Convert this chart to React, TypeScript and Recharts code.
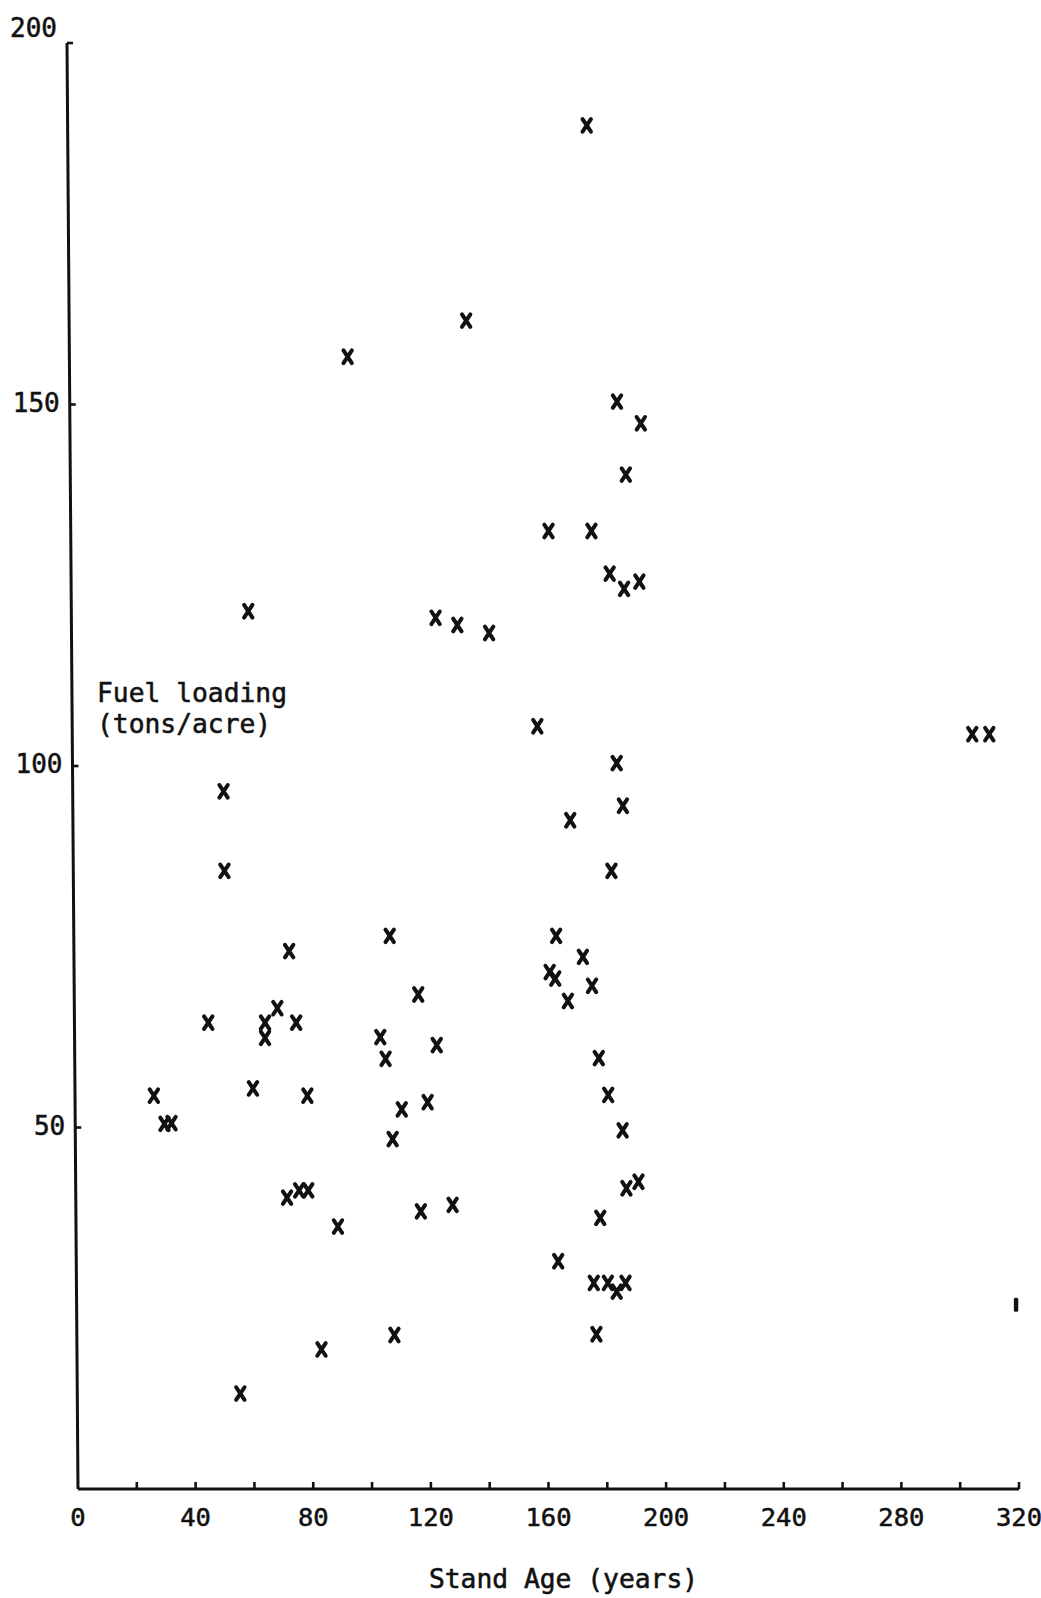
import React from "react";
import { ScatterChart, Scatter, XAxis, YAxis, ReferenceLine } from "recharts";

// Stand age (years) and fuel loading (tons/acre)
const standAge = [
  173, 132, 91.7, 183.3, 191.4, 186.3, 160, 174.6, 180.8, 185.7, 190.9,
  57.9, 121.6, 129, 139.8, 156.2, 304.1, 309.9, 183.2, 49.5, 185.3, 167.4,
  49.8, 181.4, 106, 162.6, 71.8, 171.7, 160.4, 162.3, 115.7, 174.8, 67.8,
  166.6, 44.3, 63.6, 74.2, 63.6, 102.8, 122, 104.6, 177.1, 59.5, 25.8,
  78, 180.3, 118.9, 110.1, 29.4, 31.8, 185.2, 107, 190.6, 186.5, 71.1,
  75.2, 78.3, 116.6, 127.4, 177.6, 88.4, 163.3, 175.4, 180.2, 186.2,
  183.2, 107.6, 176.3, 82.8, 55.2,
];
const fuelLoading = [
  188.6, 161.6, 156.6, 150.4, 147.4, 140.3, 132.5, 132.5, 126.6, 124.5, 125.5,
  121.4, 120.5, 119.5, 118.4, 105.5, 104.4, 104.4, 100.4, 96.5, 94.5, 92.5,
  85.5, 85.5, 76.5, 76.5, 74.4, 73.6, 71.5, 70.6, 68.4, 69.6, 66.5,
  67.5, 64.5, 64.5, 64.5, 62.4, 62.5, 61.4, 59.5, 59.6, 55.4, 54.4,
  54.4, 54.5, 53.5, 52.5, 50.5, 50.6, 49.6, 48.4, 42.5, 41.6, 40.3,
  41.3, 41.3, 38.4, 39.3, 37.5, 36.3, 31.5, 28.5, 28.5, 28.5,
  27.3, 21.3, 21.4, 19.3, 13.2,
];
// point cut off at the right edge of the frame
const edgeAge = [319];
const edgeLoading = [25.5];

const xTicks = [0, 20, 40, 60, 80, 100, 120, 140, 160, 180, 200, 220, 240, 260, 280, 300, 320];
const yTicks = [50, 100, 150, 200];

const points = standAge.map((a, i) => ({ age: a, load: fuelLoading[i] }));
const edgePoints = edgeAge.map((a, i) => ({ age: a, load: edgeLoading[i] }));

const FONT = "'DejaVu Sans Mono', 'Liberation Mono', monospace";
const INK = "#111";
const TEXT_STYLE = { stroke: INK, strokeWidth: 0.55, paintOrder: "stroke" as const };

const XMark = (props: any) => {
  const { cx, cy } = props;
  if (cx == null || cy == null) return null;
  const w = 4.2;
  const h = 6.3;
  return (
    <path
      d={`M${cx - w},${cy - h}L${cx + w},${cy + h}M${cx + w},${cy - h}L${cx - w},${cy + h}`}
      stroke={INK}
      strokeWidth={4}
      strokeLinecap="round"
      fill="none"
    />
  );
};

const EdgeMark = (props: any) => {
  const { cx, cy } = props;
  if (cx == null || cy == null) return null;
  return <rect x={cx - 2.2} y={cy - 7} width={4.4} height={14} rx={1.5} fill={INK} />;
};

const XTick = (props: any) => {
  const { x, y, payload } = props;
  const v = payload.value;
  return (
    <g>
      {v !== 0 && <line x1={x} y1={y} x2={x} y2={y - 7} stroke={INK} strokeWidth={2.6} />}
      {v % 40 === 0 && (
        <text x={x} y={y + 37} textAnchor="middle" fontFamily={FONT} fontSize={25.5} fill={INK} style={TEXT_STYLE}>
          {v}
        </text>
      )}
    </g>
  );
};

const Y_TILT = 11;
const YTick = (props: any) => {
  const { x, y, payload } = props;
  const v = payload.value;
  const ax = x - (Y_TILT * v) / 200;
  return (
    <g>
      <line x1={ax} y1={y} x2={ax + 6} y2={y} stroke={INK} strokeWidth={2.6} />
      <text
        x={ax - 10}
        y={v === 200 ? y - 15 : y - 2}
        textAnchor="end"
        dominantBaseline="central"
        fontFamily={FONT}
        fontSize={26}
        fill={INK}
        style={TEXT_STYLE}
      >
        {v}
      </text>
    </g>
  );
};

const XLabel = (props: any) => {
  const vb = props.viewBox || {};
  const cx = vb.x + vb.width / 2 + 15;
  return (
    <text x={cx} y={vb.y + 99} textAnchor="middle" fontFamily={FONT} fontSize={26.3} fill={INK} style={TEXT_STYLE}>
      Stand Age (years)
    </text>
  );
};

const YLabel = (props: any) => {
  const vb = props.viewBox || {};
  const lx = vb.x + vb.width + 19;
  const ly = vb.y + 659;
  return (
    <text x={lx} y={ly} fontFamily={FONT} fontSize={26.3} fill={INK} style={TEXT_STYLE}>
      <tspan x={lx} y={ly}>Fuel loading</tspan>
      <tspan x={lx} y={ly + 31}>(tons/acre)</tspan>
    </text>
  );
};

export default function App() {
  return (
    <div style={{ position: "absolute", left: 0, top: 0, width: 1041, height: 1598, background: "#fff" }}>
      <ScatterChart width={1041} height={1598} margin={{ top: 43, right: 22, bottom: 49, left: 0 }}>
        <XAxis
          type="number"
          dataKey="age"
          domain={[0, 320]}
          ticks={xTicks}
          interval={0}
          tickSize={0}
          tickMargin={0}
          tickLine={false}
          tick={<XTick />}
          axisLine={{ stroke: INK, strokeWidth: 2.8 }}
          height={60}
          label={<XLabel />}
        />
        <YAxis
          type="number"
          dataKey="load"
          domain={[0, 200]}
          ticks={yTicks}
          interval={0}
          tickSize={0}
          tickMargin={0}
          tickLine={false}
          tick={<YTick />}
          axisLine={false}
          width={78}
          label={<YLabel />}
        />
        <ReferenceLine
          segment={[
            { x: -Y_TILT / (941 / 320), y: 200 },
            { x: 0, y: 0 },
          ]}
          ifOverflow="visible"
          stroke={INK}
          strokeWidth={3}
        />
        <Scatter data={points} shape={<XMark />} isAnimationActive={false} />
        <Scatter data={edgePoints} shape={<EdgeMark />} isAnimationActive={false} />
      </ScatterChart>
    </div>
  );
}
